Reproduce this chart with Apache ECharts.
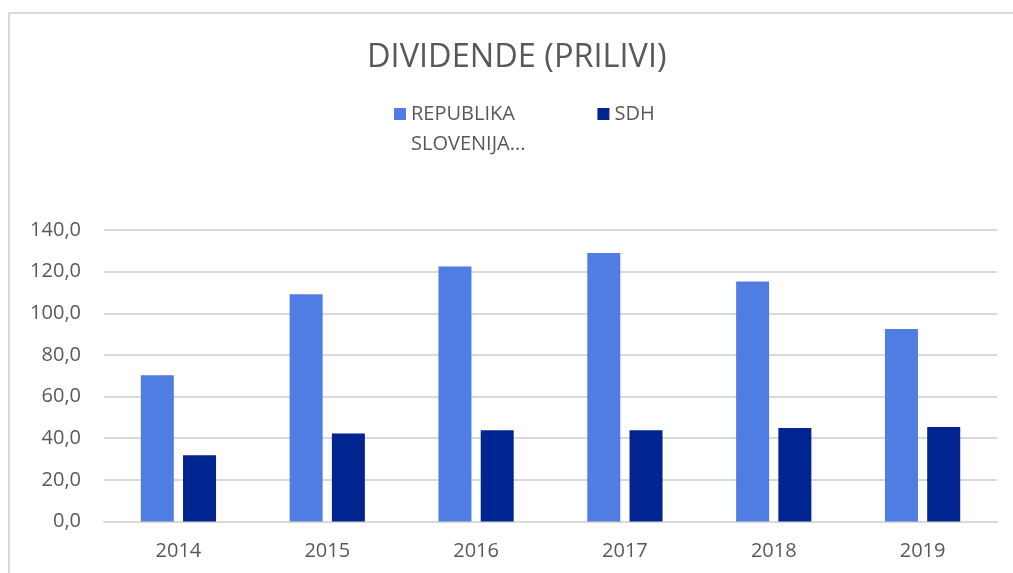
<!DOCTYPE html>
<html>
<head>
<meta charset="utf-8">
<script src="https://cdn.jsdelivr.net/npm/echarts@6/dist/echarts.min.js"></script>
<style>
  html, body { margin: 0; padding: 0; background: #fff; overflow: hidden; }
  .frame {
    position: absolute; left: 8px; top: 12px;
    width: 1100px; height: 700px;
    border: 2px solid #d9d9d9;
  }
  #main { position: absolute; left: 0; top: 0; width: 1013px; height: 573px; }
</style>
</head>
<body>
<div class="frame"></div>
<div id="main"></div>
<script>
// podatki
var years = ['2014', '2015', '2016', '2017', '2018', '2019'];
var republika = [70.3, 109.2, 122.5, 129.0, 115.3, 92.4];
var sdh = [31.8, 42.3, 43.8, 43.8, 44.9, 45.4];
var yTicks = [0, 20, 40, 60, 80, 100, 120, 140];

var textColor = '#595959';
var font = '"Open Sans", "Noto Sans", sans-serif';
var titleText = 'DIVIDENDE (PRILIVI)';
var titleSize = 32.5;

// sredina naslova je pri x = 517
var ctx = document.createElement('canvas').getContext('2d');
ctx.font = titleSize + 'px ' + font;
var titleLeft = Math.round(517 - ctx.measureText(titleText).width / 2);

var myChart = echarts.init(document.getElementById('main'));
var option = {
  title: {
    text: titleText,
    left: titleLeft,
    top: 41,
    padding: 0,
    textStyle: {
      color: textColor,
      fontSize: titleSize,
      fontWeight: 'normal',
      fontFamily: font
    }
  },
  legend: {
    left: 389,
    top: 64,
    icon: 'rect',
    itemWidth: 12,
    itemHeight: 12,
    itemGap: 72,
    data: ['REPUBLIKA SLOVENIJA', 'SDH'],
    formatter: function (name) {
      // prazna prva vrstica, da je REPUBLIKA v višini ikone
      if (name === 'REPUBLIKA SLOVENIJA') return '\u00a0\nREPUBLIKA\nSLOVENIJA...';
      return name;
    },
    textStyle: {
      color: textColor,
      fontSize: 20,
      lineHeight: 30,
      fontFamily: font
    }
  },
  grid: {
    left: 104,
    right: 16,
    top: 230,
    bottom: 51.5
  },
  xAxis: {
    type: 'category',
    data: years,
    axisTick: { show: false },
    axisLine: { lineStyle: { color: '#d9d9d9', width: 2 } },
    axisLabel: {
      color: textColor,
      fontSize: 20,
      fontFamily: font,
      margin: 20
    }
  },
  yAxis: {
    type: 'value',
    min: yTicks[0],
    max: yTicks[yTicks.length - 1],
    interval: yTicks[1] - yTicks[0],
    axisLine: { show: false },
    axisTick: { show: false },
    splitLine: { lineStyle: { color: '#d9d9d9', width: 2 } },
    axisLabel: {
      color: textColor,
      fontSize: 20,
      fontFamily: font,
      margin: 23,
      formatter: function (v) { return v.toFixed(1).replace('.', ','); }
    }
  },
  series: [
    {
      name: 'REPUBLIKA SLOVENIJA',
      type: 'bar',
      data: republika,
      barWidth: 33,
      barGap: '28%',
      itemStyle: { color: '#4f7de1' }
    },
    {
      name: 'SDH',
      type: 'bar',
      data: sdh,
      barWidth: 33,
      barGap: '28%',
      itemStyle: { color: '#002490' }
    }
  ]
};
myChart.setOption(option);
</script>
</body>
</html>
